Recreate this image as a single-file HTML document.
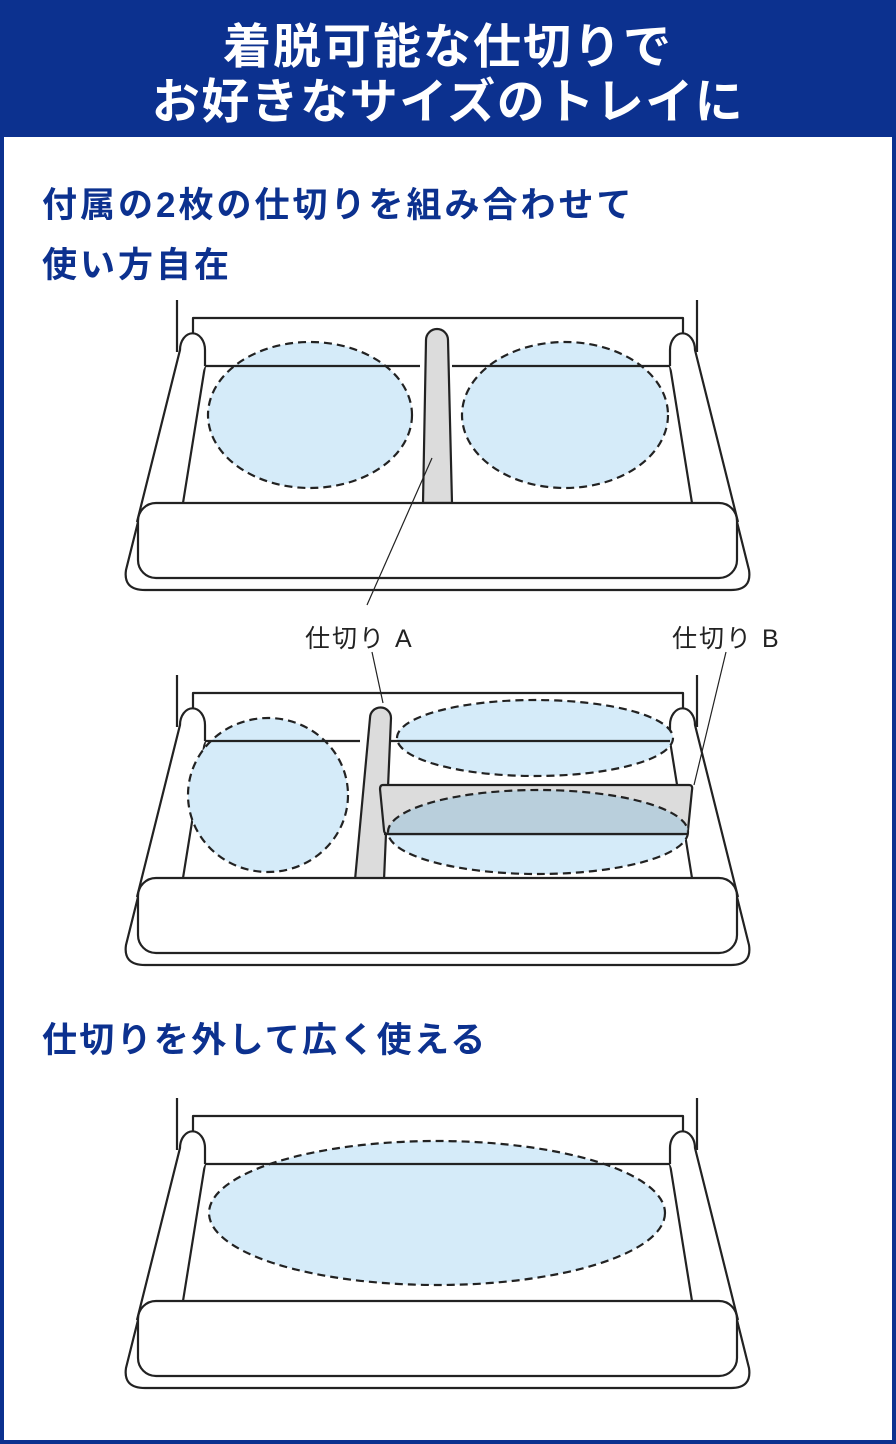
<!DOCTYPE html>
<html><head><meta charset="utf-8"><style>
html,body{margin:0;padding:0;background:#fff}
body{width:896px;height:1444px;position:relative;overflow:hidden}
svg{position:absolute;left:0;top:0}
</style></head><body>
<svg width="896" height="1444" viewBox="0 0 896 1444" xmlns="http://www.w3.org/2000/svg">
<defs>
<g id="tray" fill="none" stroke="#222" stroke-width="2.2" stroke-linejoin="round">
  <path d="M177,300 V352 M697,300 V352"/>
  <path d="M193,342 V318 H683 V342"/>
  <path d="M181,350 L126,570 Q123,590 145,590 H731 Q752,590 749,570 L694,350" fill="#fff"/>
  <path d="M205,366 L183,503 M670,366 L692,503"/>
  <path d="M137,522 L180,350 A12,16 0 0 1 205,350 L205,366" fill="#fff"/>
  <path d="M738,522 L695,350 A12,16 0 0 0 670,350 L670,366" fill="#fff"/>
</g>
<g id="bar" fill="#fff" stroke="#222" stroke-width="2.2">
  <rect x="138" y="503" width="599" height="75" rx="18"/>
</g>
</defs>

<rect x="2" y="2" width="892" height="1440" fill="#fff" stroke="#0c318f" stroke-width="4"/>
<rect x="0" y="0" width="896" height="137" fill="#0c318f"/>
<g font-family="'Liberation Sans','Noto Sans CJK JP',sans-serif" font-weight="bold">
<text x="448" y="63" fill="#fff" font-size="48" letter-spacing="2" text-anchor="middle">着脱可能な仕切りで</text>
<text x="448" y="118" fill="#fff" font-size="48" letter-spacing="1.5" text-anchor="middle">お好きなサイズのトレイに</text>
<text x="42" y="217" fill="#0c318f" font-size="35" letter-spacing="3">付属の2枚の仕切りを組み合わせて</text>
<text x="42" y="277" fill="#0c318f" font-size="35" letter-spacing="3">使い方自在</text>
<text x="42" y="1052" fill="#0c318f" font-size="35" letter-spacing="2.3">仕切りを外して広く使える</text>
</g>
<g font-family="'Liberation Sans','Noto Sans CJK JP',sans-serif" font-size="25" fill="#222" letter-spacing="2">
<text x="305" y="647">仕切り A</text>
<text x="672" y="647">仕切り B</text>
</g>

<!-- Tray 1 -->
<use href="#tray"/>
<g stroke="#222" stroke-width="2.2" stroke-dasharray="8,5">
<ellipse cx="310" cy="415" rx="102" ry="73" fill="#d5ebf9"/>
<ellipse cx="565" cy="415" rx="103" ry="73" fill="#d5ebf9"/>
</g>
<path d="M205,366 H420 M452,366 H670" stroke="#222" stroke-width="2.2"/>
<path d="M426,340 A11,11 0 0 1 448,340 L452,503 H423 Z" fill="#dcdcdc" stroke="#222" stroke-width="2.2"/>
<use href="#bar"/>
<path d="M432,458 L367,605" stroke="#222" stroke-width="1.2"/>

<!-- Tray 2 -->
<use href="#tray" transform="translate(0,375)"/>
<g stroke="#222" stroke-width="2.2" stroke-dasharray="8,5">
<ellipse cx="268" cy="795" rx="80" ry="77" fill="#d5ebf9"/>
<ellipse cx="535" cy="738" rx="138" ry="38" fill="#d5ebf9"/>
<ellipse cx="538" cy="832" rx="150" ry="42" fill="#d5ebf9"/>
</g>
<path d="M205,741 H360 M390,741 H670" stroke="#222" stroke-width="2.2"/>
<path d="M370,718 A10.5,10.5 0 0 1 391,718 L384,880 H355 Z" fill="#dcdcdc" stroke="#222" stroke-width="2.2"/>
<clipPath id="pb"><path d="M380,785 H692 L687,833 H384 Z"/></clipPath>
<path d="M383,785 H689 Q693,785 692,790 L688,830 Q687,834 683,834 H388 Q384,834 384,830 L380,789 Q380,785 383,785 Z" fill="#dcdcdc" stroke="#222" stroke-width="2.2"/>
<ellipse cx="538" cy="832" rx="150" ry="42" fill="#b9cfdc" clip-path="url(#pb)"/>
<ellipse cx="538" cy="832" rx="150" ry="42" fill="none" stroke="#222" stroke-width="2.2" stroke-dasharray="8,5" clip-path="url(#pb)"/>
<path d="M384,834 H687" stroke="#222" stroke-width="2.2"/>
<use href="#bar" transform="translate(0,375)"/>
<path d="M383,703 L372,652 M694,785 L726,652" stroke="#222" stroke-width="1.2"/>

<!-- Tray 3 -->
<use href="#tray" transform="translate(0,798)"/>
<ellipse cx="437" cy="1213" rx="228" ry="72" fill="#d5ebf9" stroke="#222" stroke-width="2.2" stroke-dasharray="8,5"/>
<path d="M205,1164 H670" stroke="#222" stroke-width="2.2"/>
<use href="#bar" transform="translate(0,798)"/>
</svg>
</body></html>
